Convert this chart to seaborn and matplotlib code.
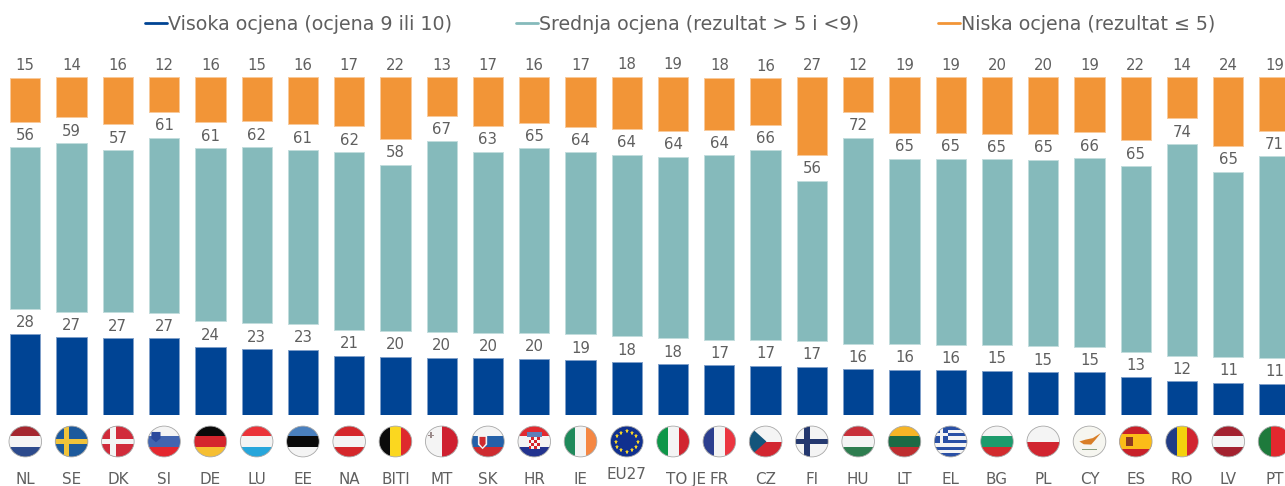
# -*- coding: utf-8 -*-
# Stacked bars with gaps between the three groups, flags under the axis

import numpy as np
import pandas as pd
import matplotlib
matplotlib.use("Agg")
import matplotlib.pyplot as plt
import seaborn as sns
from matplotlib.legend_handler import HandlerLine2D
from matplotlib.lines import Line2D
from matplotlib.patches import Circle, Polygon, Rectangle
from matplotlib.transforms import Affine2D, ScaledTranslation

countries = ["NL", "SE", "DK", "SI", "DE", "LU", "EE", "NA", "BITI", "MT", "SK", "HR", "IE", "EU27",
             "TO JE", "FR", "CZ", "FI", "HU", "LT", "EL", "BG", "PL", "CY", "ES", "RO", "LV", "PT"]
flag_codes = ["NL", "SE", "DK", "SI", "DE", "LU", "EE", "AT", "BE", "MT", "SK", "HR", "IE", "EU",
              "IT", "FR", "CZ", "FI", "HU", "LT", "EL", "BG", "PL", "CY", "ES", "RO", "LV", "PT"]
visoka = [28.1, 27.1, 26.8, 26.7, 23.7, 23.0, 22.7, 20.6, 20.3, 19.9, 19.7, 19.6, 19.1, 18.4,
          17.7, 17.3, 17.1, 16.8, 15.9, 15.7, 15.5, 15.4, 14.9, 14.8, 13.1, 11.7, 11.2, 10.8]
srednja = [56.4, 58.9, 56.8, 61.2, 60.6, 61.6, 60.9, 62.3, 58.1, 66.7, 63.3, 64.6, 63.7, 63.6,
           63.6, 64.4, 66.4, 56.1, 72.0, 64.9, 65.1, 64.9, 65.3, 66.0, 64.9, 74.0, 64.8, 70.6]
niska = [15.4, 14.0, 16.4, 12.1, 15.7, 15.4, 16.4, 17.1, 21.6, 13.4, 17.0, 15.9, 17.2, 18.2,
         18.9, 18.2, 16.3, 27.1, 12.1, 19.4, 19.4, 19.7, 19.8, 19.2, 22.0, 14.3, 24.0, 18.6]

legend_labels = ["Visoka ocjena (ocjena 9 ili 10)", "Srednja ocjena (rezultat > 5 i <9)", "Niska ocjena (rezultat ≤ 5)"]
legend_x = [145, 516, 938]

BLUE = "#004494"
TEAL = "#85BABB"
ORANGE = "#F29537"
TEXT = "#5F5F5F"
GAP = 9  # the empty space between the groups
W, H = 1285, 486
BASE_Y = 414.7
PX_PER_UNIT = 2.858
STEP = 46.27
FIRST_X = 25.3

df = pd.DataFrame({"country": countries, "visoka": visoka, "srednja": srednja, "niska": niska})
df["bottom_s"] = df["visoka"] + GAP
df["bottom_n"] = df["bottom_s"] + df["srednja"] + GAP

sns.set_theme(style="white")
plt.rcParams["font.family"] = ["DejaVu Sans"]

fig = plt.figure(figsize=(W / 100, H / 100), dpi=100)
ax = fig.add_axes([0, (H - BASE_Y) / H, 1, BASE_Y / H])

bar_w = 30.3 / STEP
sns.barplot(data=df, x="country", y="visoka", color=BLUE, width=bar_w, saturation=1, errorbar=None,
            edgecolor="#7F9FC9", linewidth=0.7, ax=ax)
sns.barplot(data=df, x="country", y="srednja", bottom=df["bottom_s"], color=TEAL, width=bar_w, saturation=1,
            errorbar=None, edgecolor="#C2DCDD", linewidth=0.7, ax=ax)
sns.barplot(data=df, x="country", y="niska", bottom=df["bottom_n"], color=ORANGE, width=bar_w, saturation=1,
            errorbar=None, edgecolor="#F8CA9B", linewidth=0.7, ax=ax)

# bar_label would print the running total, so the labels are passed in
for cont, vals in zip(ax.containers, [visoka, srednja, niska]):
    ax.bar_label(cont, labels=[f"{v:.0f}" for v in vals], padding=3.2, color=TEXT, fontsize=10.7)

ax.set_xlim(-FIRST_X / STEP, (W - FIRST_X) / STEP)
ax.set_ylim(0, BASE_Y / PX_PER_UNIT)
ax.set_xlabel("")
ax.set_ylabel("")
ax.set_yticks([])
sns.despine(ax=ax, left=True, bottom=True)
ax.patch.set_alpha(0)
ax.tick_params(axis="x", length=0, pad=41, labelsize=10.9, labelcolor=TEXT)

# two labels sit off their usual place in the reference
for lab in ax.get_xticklabels():
    if lab.get_text() == "TO JE":
        lab.set_transform(lab.get_transform() + ScaledTranslation(13 / 100, 0, fig.dpi_scale_trans))
    if lab.get_text() == "EU27":
        lab.set_transform(lab.get_transform() + ScaledTranslation(0, 5 / 100, fig.dpi_scale_trans))


def band(t, clip, x0, y0, x1, y1, colour):
    p = Rectangle((x0, y0), x1 - x0, y1 - y0, facecolor=colour, edgecolor="none", transform=t, zorder=3)
    p.set_clip_path(clip)
    ax.add_patch(p)


def shape(t, clip, pts, colour):
    p = Polygon(pts, closed=True, facecolor=colour, edgecolor="none", transform=t, zorder=4)
    p.set_clip_path(clip)
    ax.add_patch(p)


def h_stripes(t, clip, colours):
    edges = np.linspace(1, -1, len(colours) + 1)
    for i, c in enumerate(colours):
        band(t, clip, -1, edges[i + 1], 1, edges[i], c)


def v_stripes(t, clip, colours):
    edges = np.linspace(-1, 1, len(colours) + 1)
    for i, c in enumerate(colours):
        band(t, clip, edges[i], -1, edges[i + 1], 1, c)


def cross(t, clip, bg, fg, x=-0.3, size=0.16):
    band(t, clip, -1, -1, 1, 1, bg)
    band(t, clip, -1, -size, 1, size, fg)
    band(t, clip, x - size, -1, x + size, 1, fg)


H_FLAGS = {
    "NL": ["#A5272F", "#F4F4F4", "#2C4A8C"],
    "SI": ["#F4F4F4", "#4265B0", "#E4272F"],
    "DE": ["#0A0A0A", "#D5252D", "#F6BF32"],
    "LU": ["#EB3339", "#F4F4F4", "#27A6DB"],
    "EE": ["#4A80BE", "#0A0A0A", "#F4F4F4"],
    "AT": ["#D5272B", "#F4F4F4", "#D5272B"],
    "SK": ["#F4F4F4", "#2460A8", "#CE2B30"],
    "HR": ["#E22A30", "#F4F4F4", "#23338F"],
    "HU": ["#C8303A", "#F4F4F4", "#2E7D4F"],
    "LT": ["#F6B527", "#1C6A45", "#BE2E30"],
    "BG": ["#F4F4F4", "#1D9B6C", "#D22B2E"],
    "PL": ["#F4F4F4", "#D12530"],
    "LV": ["#A3212F", "#F4F4F4", "#A3212F"],
}
V_FLAGS = {
    "BE": ["#0A0A0A", "#FBD71F", "#DE2A2D"],
    "MT": ["#F4F4F4", "#CF2030"],
    "IE": ["#1F8A5B", "#F4F4F4", "#F58743"],
    "IT": ["#0D9648", "#F4F4F4", "#D12530"],
    "FR": ["#2C3F8F", "#F4F4F4", "#EB3540"],
    "RO": ["#213C86", "#F4D20D", "#D12530"],
}


def draw_flag(code, i):
    t = Affine2D().scale(16.3 / STEP, 15.4 / PX_PER_UNIT).translate(i, -(441.5 - BASE_Y) / PX_PER_UNIT) + ax.transData
    clip = Circle((0, 0), 1, transform=t)
    if code in H_FLAGS:
        h_stripes(t, clip, H_FLAGS[code])
    elif code in V_FLAGS:
        v_stripes(t, clip, V_FLAGS[code])

    if code == "SE":
        cross(t, clip, "#1D5A9C", "#F0C33A")
    elif code == "DK":
        cross(t, clip, "#D12B3B", "#F4F4F4")
    elif code == "FI":
        cross(t, clip, "#F4F4F4", "#24386F")
    elif code == "SI":
        shape(t, clip, [(-0.78, 0.62), (-0.22, 0.62), (-0.22, 0.2), (-0.5, -0.05), (-0.78, 0.2)], "#2C4A9C")
    elif code == "SK":
        shape(t, clip, [(-0.62, 0.4), (-0.05, 0.4), (-0.05, -0.2), (-0.33, -0.5), (-0.62, -0.2)], "#F4F4F4")
        shape(t, clip, [(-0.52, 0.3), (-0.15, 0.3), (-0.15, -0.15), (-0.33, -0.38), (-0.52, -0.15)], "#CE2B30")
    elif code == "HR":
        band(t, clip, -0.35, -0.5, 0.35, 0.3, "#F4F4F4")
        for row in range(4):
            for col in range(4):
                if (row + col) % 2 == 0:
                    band(t, clip, -0.35 + col * 0.175, -0.5 + row * 0.2, -0.175 + col * 0.175, -0.3 + row * 0.2, "#D5252D")
        band(t, clip, -0.45, 0.3, 0.45, 0.6, "#5E7FB8")
    elif code == "MT":
        band(t, clip, -0.82, 0.35, -0.48, 0.45, "#9A8A8A")
        band(t, clip, -0.7, 0.2, -0.6, 0.6, "#9A8A8A")
    elif code == "EU":
        band(t, clip, -1, -1, 1, 1, "#10308F")
        ang = np.linspace(0, 2 * np.pi, 12, endpoint=False)
        ax.plot(0.66 * np.cos(ang), 0.66 * np.sin(ang), ls="none", marker="*", ms=3.6, color="#F5D327",
                mew=0, transform=t, clip_on=False, zorder=4)
    elif code == "CZ":
        h_stripes(t, clip, ["#F4F4F4", "#D22630"])
        shape(t, clip, [(-1, 1), (0.05, 0), (-1, -1)], "#14557B")
    elif code == "EL":
        h_stripes(t, clip, ["#2A50A5", "#F4F4F4"] * 4 + ["#2A50A5"])
        band(t, clip, -1, -0.1, -0.15, 1, "#2A50A5")
        band(t, clip, -1, 0.35, -0.15, 0.55, "#F4F4F4")
        band(t, clip, -0.67, -0.1, -0.47, 1, "#F4F4F4")
    elif code == "CY":
        band(t, clip, -1, -1, 1, 1, "#F6F6F0")
        shape(t, clip, [(-0.62, 0.0), (-0.25, 0.12), (0.2, 0.22), (0.7, 0.55), (0.35, 0.1), (0.1, -0.2), (-0.35, -0.18)], "#D97F27")
        band(t, clip, -0.45, -0.55, 0.45, -0.47, "#8BA07F")
    elif code == "ES":
        band(t, clip, -1, -1, 1, 1, "#C8202A")
        band(t, clip, -1, -0.5, 1, 0.5, "#FBBD18")
        band(t, clip, -0.6, -0.3, -0.15, 0.3, "#8C3A22")
    elif code == "PT":
        band(t, clip, -1, -1, -0.2, 1, "#1E7A3C")
        band(t, clip, -0.2, -1, 1, 1, "#E2282E")
        ax.add_patch(Circle((-0.2, 0), 0.5, facecolor="#F0C33A", edgecolor="none", transform=t, zorder=4))
        ax.add_patch(Circle((-0.2, 0), 0.28, facecolor="#F4F4F4", edgecolor="#C8202A", lw=0.8, transform=t, zorder=5))

    ax.add_patch(Circle((0, 0), 1, facecolor="none", edgecolor="#A8A8A8", lw=0.6, transform=t, zorder=6, clip_on=False))


for i, code in enumerate(flag_codes):
    draw_flag(code, i)

# one small legend per entry, the gaps between them are not even
for lab, x, col in zip(legend_labels, legend_x, [BLUE, TEAL, ORANGE]):
    handle = Line2D([], [], color=col, lw=2)
    fig.legend(handles=[handle], labels=[lab], loc="center left", bbox_to_anchor=(x / W, 1 - 24 / H),
               frameon=False, borderpad=0, borderaxespad=0, handlelength=1.15, handletextpad=0.05,
               fontsize=13.7, labelcolor=TEXT, handler_map={handle: HandlerLine2D(ypad=-0.15)})

fig.savefig("out.png", dpi=100)
